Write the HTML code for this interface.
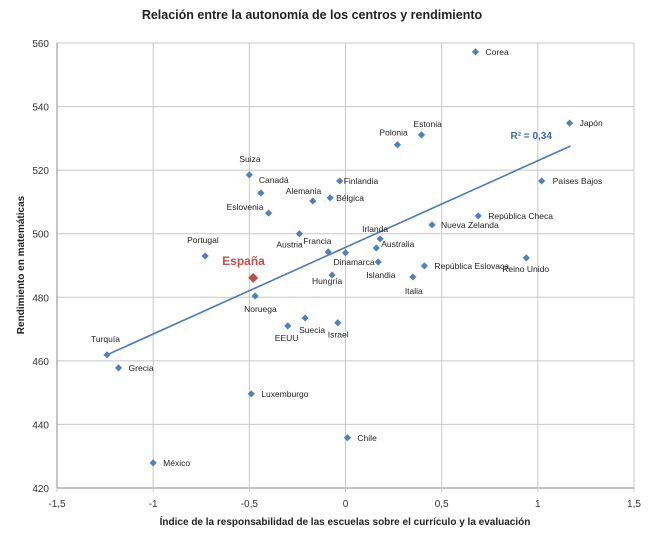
<!DOCTYPE html>
<html><head><meta charset="utf-8"><style>
html,body{margin:0;padding:0;background:#fff;}
svg{display:block;font-family:"Liberation Sans",sans-serif;}
</style></head><body>
<svg id="chart" width="650" height="541">
<text x="312" y="19" text-anchor="middle" font-size="12.5" font-weight="bold" fill="#222">Relación entre la autonomía de los centros y rendimiento</text>
<g id="grid"></g>
<g id="axes"></g>
<g id="marks"></g>
<text x="345" y="525" text-anchor="middle" font-size="10" font-weight="bold" fill="#222">Índice de la responsabilidad  de las escuelas sobre el currículo y la evaluación</text>
<text transform="translate(24,265) rotate(-90)" text-anchor="middle" font-size="10" font-weight="bold" fill="#222">Rendimiento en matemáticas</text>
</svg>
<script>
const countries=["Corea","Japón","Estonia","Polonia","Suiza","Finlandia","Países Bajos","Canadá","Alemania","Bélgica","Eslovenia","República Checa","Nueva Zelanda","Austria","Irlanda","Australia","Francia","Dinamarca","Portugal","Islandia","Reino Unido","República Eslovaca","Hungría","Italia","España","Noruega","Suecia","Israel","EEUU","Turquía","Grecia","Luxemburgo","Chile","México"];
const xValues=[0.676,1.165,0.395,0.27,-0.5,-0.03,1.02,-0.44,-0.17,-0.08,-0.4,0.69,0.45,-0.24,0.18,0.16,-0.09,0.0,-0.73,0.17,0.94,0.41,-0.07,0.35,-0.48,-0.47,-0.21,-0.04,-0.3,-1.24,-1.18,-0.49,0.01,-1.0];
const yValues=[557.2,534.8,531.1,528,518.5,516.6,516.6,512.8,510.3,511.3,506.5,505.6,502.8,500,498.4,495.5,494.3,494,493,491.1,492.4,489.9,487,486.4,486.1,480.4,473.5,472,471,461.9,457.8,449.6,435.8,427.9];
const xTicks=[-1.5,-1,-0.5,0,0.5,1,1.5];
const yTicks=[420,440,460,480,500,520,540,560];
const trendX=[-1.24,1.17];
const trendY=[461.9,527.6];
// label offsets (dx, dy, anchor) in pixels
const lab={"Corea":[10,3,"start"],"Japón":[10,3,"start"],"Estonia":[-8,-8,"start"],"Polonia":[-18,-9,"start"],"Suiza":[-10,-13,"start"],"Finlandia":[4,3,"start"],"Países Bajos":[11,3,"start"],"Canadá":[-2,-10,"start"],"Alemania":[-27,-7,"start"],"Bélgica":[6,3,"start"],"Eslovenia":[-42,-3,"start"],"República Checa":[10,3,"start"],"Nueva Zelanda":[9,3,"start"],"Austria":[-23,14,"start"],"Irlanda":[-18,-7,"start"],"Australia":[5,-1,"start"],"Francia":[-25,-8,"start"],"Dinamarca":[-12,12,"start"],"Portugal":[-18,-13,"start"],"Islandia":[-12,16,"start"],"Reino Unido":[-24,14,"start"],"República Eslovaca":[10,3,"start"],"Hungría":[-20,9,"start"],"Italia":[-8,17,"start"],"España":[-31,-13,"start"],"Noruega":[-11,16,"start"],"Suecia":[-6,15,"start"],"Israel":[-10,15,"start"],"EEUU":[-13,15,"start"],"Turquía":[-16,-13,"start"],"Grecia":[10,3,"start"],"Luxemburgo":[10,3,"start"],"Chile":[10,3,"start"],"México":[10,3,"start"]};
const L=57,R=634,T=43,B=488;
const xs=v=>L+(v+1.5)/3*(R-L);
const ys=v=>B-(v-420)/140*(B-T);
const NS="http://www.w3.org/2000/svg";
function mk(tag,attrs,parent,txt){const e=document.createElementNS(NS,tag);for(const k in attrs)e.setAttribute(k,attrs[k]);if(txt!==undefined)e.textContent=txt;parent.appendChild(e);return e;}
const grid=document.getElementById('grid'),axes=document.getElementById('axes'),marks=document.getElementById('marks');
yTicks.forEach(t=>{
  const g=mk('line',{x1:L,x2:R,y1:ys(t),y2:ys(t),stroke:t===420?'#888':'#c8c8c8','stroke-width':1},grid);
  
  
  const tx=mk('text',{x:L-8,y:ys(t)+4,'text-anchor':'end','font-size':10,fill:'#333'},axes,String(t));
  
  
});
xTicks.forEach(t=>{
  const g=mk('line',{x1:xs(t),x2:xs(t),y1:T,y2:B+4,stroke:'#c8c8c8','stroke-width':1},grid);
  
  
  const tx=mk('text',{x:xs(t),y:B+19,'text-anchor':'middle','font-size':10,fill:'#333'},axes,String(t).replace('.',','));
  
  
});
const ax=mk('line',{x1:L,x2:L,y1:T,y2:B,stroke:'#888'},axes);


const tl=mk('line',{x1:xs(trendX[0]),y1:ys(trendY[0]),x2:xs(trendX[1]),y2:ys(trendY[1]),stroke:'#4a7ab5','stroke-width':1.6},marks);


const r2=mk('text',{x:xs(trendX[1])-60,y:ys(trendY[1])-7,'font-size':10,'font-weight':'bold',fill:'#3d6aa3'},marks,'R² = 0,34');


countries.forEach((c,i)=>{
  const x=xs(xValues[i]),y=ys(yValues[i]);const sp=c==='España';const s=sp?5:3.6;
  const p=mk('polygon',{points:`${x},${y-s} ${x+s},${y} ${x},${y+s} ${x-s},${y}`,fill:sp?'#b5514c':'#4f81bd'},marks);
  
  
  const o=lab[c]||[8,3,'start'];
  const t=mk('text',{x:x+o[0],y:y+o[1],'text-anchor':o[2],'font-size':sp?12:8.5,'font-weight':sp?'bold':'normal',fill:sp?'#c0504d':'#222'},marks,c);
  
  
});
</script>
</body></html>
